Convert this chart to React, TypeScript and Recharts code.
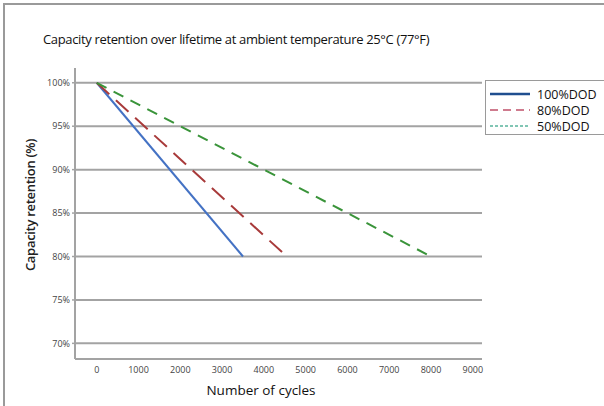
import React from 'react';
import { LineChart, Line, XAxis, YAxis, CartesianGrid } from 'recharts';

const title = 'Capacity retention over lifetime at ambient temperature 25°C (77°F)';
const xLabel = 'Number of cycles';
const yLabel = 'Capacity retention (%)';
const xTicks = [0, 1000, 2000, 3000, 4000, 5000, 6000, 7000, 8000, 9000];
const yTicks = [70, 75, 80, 85, 90, 95, 100];
const seriesNames = ['100%DOD', '80%DOD', '50%DOD'];
const cycles100 = [0, 3500];
const retention100 = [100, 80];
const cycles80 = [0, 4550];
const retention80 = [100, 80];
const cycles50 = [0, 8000];
const retention50 = [100, 80];

const toPoints = (xs: number[], ys: number[]) => xs.map((x, i) => ({ x, y: ys[i] }));

const series = [
  { name: seriesNames[0], data: toPoints(cycles100, retention100), color: '#4472c4', dash: undefined, legendColor: '#1f4e8f', legendDash: undefined },
  { name: seriesNames[1], data: toPoints(cycles80, retention80), color: '#a83a3a', dash: '17 9', legendColor: '#c0506a', legendDash: '8 5' },
  { name: seriesNames[2], data: toPoints(cycles50, retention50), color: '#3a943a', dash: '11 8', legendColor: '#58b49c', legendDash: '3 2' },
];

const FONT = '"Open Sans", "Noto Sans", sans-serif';

export default function App() {
  return (
    <div style={{ position: 'absolute', left: 0, top: 0, width: 604, height: 406, background: '#fff', fontFamily: FONT, overflow: 'hidden' }}>
      <div style={{ position: 'absolute', left: 3, top: 3, width: 620, height: 420, borderTop: '2px solid #9a9a9a', borderLeft: '2px solid #9a9a9a' }} />
      <div style={{ position: 'absolute', left: 43, top: 30, fontSize: 13, color: '#111', whiteSpace: 'nowrap', letterSpacing: -0.35 }}>{title}</div>
      <LineChart width={604} height={406} margin={{ top: 68, right: 122, bottom: 0, left: 0 }}>
        <CartesianGrid vertical={false} stroke="#a3a3a3" strokeWidth={2} horizontalValues={yTicks} />
        <XAxis
          type="number"
          dataKey="x"
          domain={[-520, 9220]}
          ticks={xTicks}
          allowDataOverflow
          height={47}
          tickLine={false}
          axisLine={{ stroke: '#a3a3a3', strokeWidth: 2 }}
          tick={{ fontSize: 9, fill: '#444', fontFamily: FONT }}
          tickMargin={2}
          interval={0}
        />
        <YAxis
          type="number"
          dataKey="y"
          domain={[68.2, 101.7]}
          ticks={yTicks}
          allowDataOverflow
          width={75}
          tickFormatter={(v: number) => `${v}%`}
          tickLine={{ stroke: '#a3a3a3', strokeWidth: 1.5 }}
          tickSize={3}
          axisLine={{ stroke: '#a3a3a3', strokeWidth: 2 }}
          tick={{ fontSize: 9, fill: '#444', fontFamily: FONT }}
          tickMargin={2}
          interval={0}
        />
        {series.map((s) => (
          <Line
            key={s.name}
            data={s.data}
            dataKey="y"
            name={s.name}
            type="linear"
            stroke={s.color}
            strokeWidth={2}
            strokeDasharray={s.dash}
            dot={false}
            activeDot={false}
            isAnimationActive={false}
          />
        ))}
      </LineChart>
      <div style={{ position: 'absolute', left: 30, top: 205, transform: 'translate(-50%, -50%) rotate(-90deg)', transformOrigin: 'center', fontSize: 13, fontWeight: 600, color: '#222', whiteSpace: 'nowrap', letterSpacing: -0.3 }}>{yLabel}</div>
      <div style={{ position: 'absolute', left: 261, top: 390, transform: 'translate(-50%, -50%)', fontSize: 13.5, color: '#111', whiteSpace: 'nowrap' }}>{xLabel}</div>
      <div style={{ position: 'absolute', left: 485, top: 80, width: 130, height: 55, border: '1.5px solid #9a9a9a', boxSizing: 'border-box', background: '#fff' }}>
        {series.map((s, i) => (
          <div key={s.name} style={{ position: 'absolute', left: 4, top: 5 + i * 16, height: 16, display: 'flex', alignItems: 'center' }}>
            <svg width={40} height={6} style={{ display: 'block' }}>
              <line x1={0} y1={3} x2={40} y2={3} stroke={s.legendColor} strokeWidth={i === 0 ? 2.5 : 1.5} strokeDasharray={s.legendDash} />
            </svg>
            <span style={{ marginLeft: 7, fontSize: 12.5, color: '#111', whiteSpace: 'nowrap' }}>{s.name}</span>
          </div>
        ))}
      </div>
    </div>
  );
}
